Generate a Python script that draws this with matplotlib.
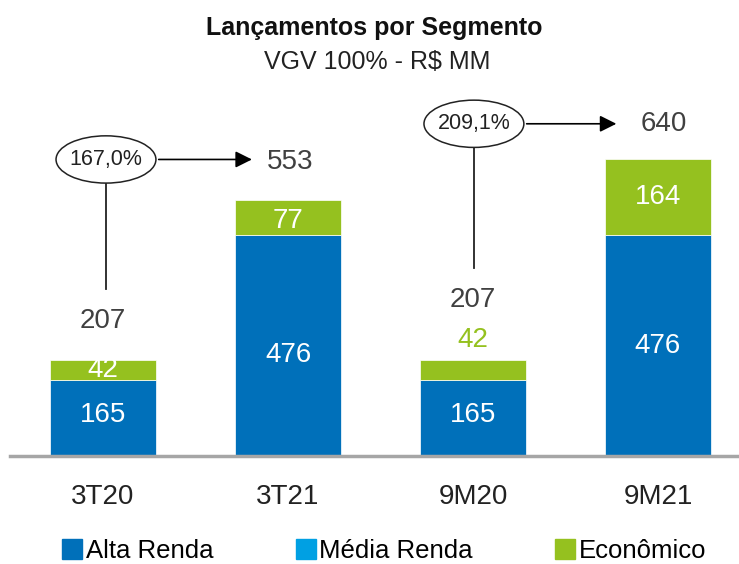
import matplotlib
matplotlib.use("Agg")
import matplotlib.pyplot as plt
from matplotlib.patches import Ellipse, Patch

plt.rcParams['font.family'] = ['Liberation Sans', 'DejaVu Sans']

categories = ["3T20", "3T21", "9M20", "9M21"]
alta_renda = [165, 476, 165, 476]
media_renda = [0, 0, 0, 0]
economico = [42, 77, 42, 164]
totals = [207, 553, 207, 640]
growth_labels = ["167,0%", "209,1%"]

c_alta = "#0070BA"
c_media = "#00A0E3"
c_eco = "#95C11F"
c_text = "#404040"

fig = plt.figure(figsize=(7.39, 5.64), dpi=100)
ax = fig.add_axes([0.0135, 0.1915, 0.9865, 0.649])

x = list(range(len(categories)))
w = 0.573
ax.bar(x, alta_renda, width=w, color=c_alta, edgecolor="white", linewidth=0.5)
ax.bar(x, media_renda, width=w, bottom=alta_renda, color=c_media)
bottoms = [a + m for a, m in zip(alta_renda, media_renda)]
ax.bar(x, economico, width=w, bottom=bottoms, color=c_eco, edgecolor="white", linewidth=0.5)

ax.set_xlim(-0.503, 3.438)
ax.set_ylim(0, 790)

fs = 20
# alta renda labels
offs = [5, -20, 5, 0]
for i in x:
    ax.text(i, alta_renda[i] / 2 + offs[i], str(alta_renda[i]),
            ha="center", va="center", color="white", fontsize=fs)
# economico labels
ax.text(0, bottoms[0] + economico[0] / 2, str(economico[0]), ha="center", va="center", color="white", fontsize=fs)
ax.text(1, bottoms[1] + economico[1] / 2 - 8, str(economico[1]), ha="center", va="center", color="white", fontsize=fs)
ax.text(2, totals[2] + 43, str(economico[2]), ha="center", va="center", color=c_eco, fontsize=fs)
ax.text(3, bottoms[3] + economico[3] / 2, str(economico[3]), ha="center", va="center", color="white", fontsize=fs)

# totals
ax.text(0, totals[0] + 85, str(totals[0]), ha="center", va="center", color=c_text, fontsize=fs)
ax.text(2, totals[2] + 130, str(totals[2]), ha="center", va="center", color=c_text, fontsize=fs)
ax.text(1.01, totals[1] + 82, str(totals[1]), ha="center", va="center", color=c_text, fontsize=fs)
ax.text(3.03, totals[3] + 77, str(totals[3]), ha="center", va="center", color=c_text, fontsize=fs)

# growth annotations
def growth(xc, yc, label, y_low, x_end):
    e = Ellipse((xc, yc), 0.54, 102, facecolor="white", edgecolor="#222222", linewidth=1.1, zorder=5)
    ax.add_patch(e)
    ax.text(xc, yc, label, ha="center", va="center", fontsize=15.5, color="#222222", zorder=6)
    ax.plot([xc, xc], [yc - 51, y_low], color="#222222", linewidth=1.3)
    ax.annotate("", xy=(x_end, yc), xytext=(xc + 0.27, yc),
                arrowprops=dict(arrowstyle="-|>", color="black", lw=1.2, mutation_scale=25))

growth(0.016, 640, growth_labels[0], 360, 0.82)
growth(2.005, 717, growth_labels[1], 405, 2.79)

for s in ["top", "left", "right"]:
    ax.spines[s].set_visible(False)
ax.spines["bottom"].set_color("#A6A6A6")
ax.spines["bottom"].set_linewidth(2.5)
ax.set_yticks([])
ax.set_xticks(x)
ax.set_xticklabels(categories, fontsize=20, color="#222222")
ax.tick_params(axis="x", length=0, pad=20)

fig.text(0.507, 0.950, "Lançamentos por Segmento", ha="center", va="center",
         fontsize=18, fontweight="bold", color="#111111")
fig.text(0.510, 0.890, "VGV 100% - R$ MM", ha="center", va="center",
         fontsize=18, color="#222222")

handles = [Patch(color=c_alta, label="Alta Renda"),
           Patch(color=c_media, label="Média Renda"),
           Patch(color=c_eco, label="Econômico")]
fig.legend(handles=handles, loc="center", bbox_to_anchor=(0.52, 0.023), ncol=3,
           frameon=False, fontsize=18.5, handlelength=0.78, handleheight=0.78,
           handletextpad=0.15, columnspacing=3.2, borderpad=0.1)

fig.savefig("out.png", dpi=100)
